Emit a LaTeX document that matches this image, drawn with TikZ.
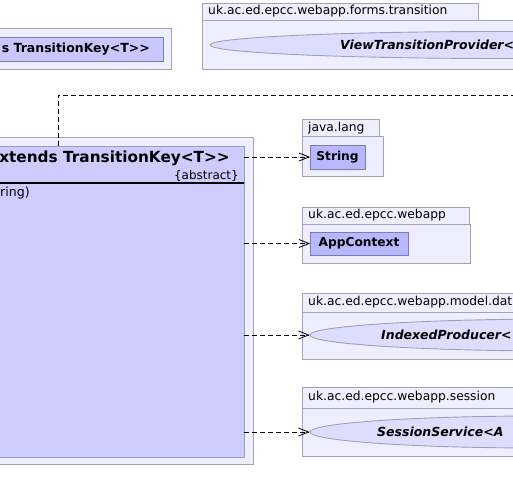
\documentclass[tikz,border=0pt]{standalone}
\usepackage{fontspec}
\setmainfont{DejaVu Sans}
\usetikzlibrary{arrows.meta,shapes.geometric}
\definecolor{pkgfill}{HTML}{EEEEFF}
\definecolor{pkgline}{HTML}{A4A4B4}
\definecolor{mainfill}{HTML}{CCCCFF}
\definecolor{mainline}{HTML}{9C9CB8}
\definecolor{clsfill}{HTML}{B8B8FF}
\definecolor{clsline}{HTML}{7C7CB0}
\definecolor{tlfill}{HTML}{C8C8FF}
\definecolor{ellfill}{HTML}{DDDDFF}
\definecolor{ellline}{HTML}{A0A0B4}
\tikzset{
  box/.style={draw, inner sep=0pt, outer sep=0pt, anchor=north west, line width=0.9pt},
  pkgbox/.style={box, draw=pkgline, fill=pkgfill},
  mainbox/.style={box, draw=mainline, fill=mainfill},
  clsbox/.style={box, draw=clsline, fill=clsfill, font=\fontsize{12}{14}\selectfont\bfseries},
  tlbox/.style={box, draw=clsline, fill=tlfill},
  ellbox/.style={ellipse, draw=ellline, fill=ellfill, inner sep=0pt, line width=0.9pt},
  pkglabel/.style={inner sep=0pt, anchor=west, font=\fontsize{12.3}{14}\selectfont},
  clsname/.style={inner sep=0pt, font=\fontsize{12.2}{14}\selectfont\bfseries},
  ifname/.style={inner sep=0pt, anchor=west, font=\fontsize{12.5}{14}\selectfont\bfseries\itshape},
  dep/.style={dash pattern=on 5pt off 3pt, line width=0.8pt, black},
  deparrow/.style={dep, -{Straight Barb[length=10pt,width=8pt]}}
}
\begin{document}
\begin{tikzpicture}[x=1pt,y=-1pt]
\useasboundingbox (0,0) rectangle (513,502);
\clip (0,0) rectangle (513,502);

% top-left package
\node[pkgbox, minimum width=172pt, minimum height=41pt] (tlpkg) at (-1,28) {};
\node[tlbox, minimum width=164pt, minimum height=24pt] (tlcls) at (-1,37) {};
\node[clsname, anchor=east, font=\fontsize{12.5}{14}\selectfont\bfseries] (tltext) at (150,49) {s TransitionKey<T>{}>};

% forms.transition package
\node[pkgbox, minimum width=276pt, minimum height=17pt] (vtptab) at (202,3) {};
\node[pkglabel] (vtplabel) at (208,11.5) {uk.ac.ed.epcc.webapp.forms.transition};
\node[pkgbox, minimum width=330pt, minimum height=49pt] (vtpbody) at (202,20) {};
\node[ellbox, minimum width=580pt, minimum height=27pt] (vtp) at (500,45) {};
\node[ifname] (vtptext) at (340,45) {ViewTransitionProvider<};

% main package and class
\node[pkgbox, minimum width=254pt, minimum height=327pt] (mainpkg) at (-1,137) {};
\node[mainbox, minimum width=245pt, minimum height=311pt] (maincls) at (-1,146) {};
\node[inner sep=0pt, anchor=east, font=\fontsize{15.3}{17}\selectfont\bfseries] (mainname) at (230,158) {xtends TransitionKey<T>{}>};
\node[inner sep=0pt, anchor=east, font=\fontsize{12}{14}\selectfont] (abstr) at (239,176) {\{abstract\}};
\draw[line width=1.6pt, black] (maincls.west |- 0,183) -- (maincls.east |- 0,183);
\node[inner sep=0pt, anchor=west, font=\fontsize{12.6}{14}\selectfont] (meth) at (0,193) {ring)};

% java.lang
\node[pkgbox, minimum width=77pt, minimum height=17pt] (strtab) at (302,119) {};
\node[pkglabel] (strlabel) at (308,128) {java.lang};
\node[pkgbox, minimum width=81pt, minimum height=40pt] (strbody) at (302,136) {};
\node[clsbox, minimum width=55pt, minimum height=24pt] (string) at (310,145) {};
\node[clsname] at (string.center) {String};

% webapp
\node[pkgbox, minimum width=167pt, minimum height=17pt] (apptab) at (302,207) {};
\node[pkglabel] (applabel) at (308,215.5) {uk.ac.ed.epcc.webapp};
\node[pkgbox, minimum width=168pt, minimum height=39pt] (appbody) at (302,224) {};
\node[clsbox, minimum width=98pt, minimum height=23pt] (appctx) at (310,232) {};
\node[clsname] at (appctx.center) {AppContext};

% model.data
\node[pkgbox, minimum width=240pt, minimum height=19pt] (idxtab) at (302,293) {};
\node[pkglabel] (idxlabel) at (308,302.5) {uk.ac.ed.epcc.webapp.model.data};
\node[pkgbox, minimum width=240pt, minimum height=47pt] (idxbody) at (302,312) {};
\node[ellbox, minimum width=500pt, minimum height=32pt] (idx) at (560,335) {};
\node[ifname] (idxtext) at (381,335) {IndexedProducer<};

% session
\node[pkgbox, minimum width=240pt, minimum height=21pt] (sestab) at (302,387) {};
\node[pkglabel] (seslabel) at (308,397.5) {uk.ac.ed.epcc.webapp.session};
\node[pkgbox, minimum width=240pt, minimum height=48pt] (sesbody) at (302,408) {};
\node[ellbox, minimum width=460pt, minimum height=32pt] (ses) at (540,432) {};
\node[ifname] (sestext) at (377,432) {SessionService<A};

% dependencies
\coordinate (vtpend) at (530,95);
\draw[dep] ([xshift=59pt]maincls.north west) |- (vtpend);
\draw[deparrow] (string.west -| maincls.east) -- (string.west);
\draw[deparrow] (appctx.west -| maincls.east) -- (appctx.west);
\draw[deparrow] (idx.west -| maincls.east) -- (idx.west);
\draw[deparrow] (ses.west -| maincls.east) -- (ses.west);
\end{tikzpicture}
\end{document}
